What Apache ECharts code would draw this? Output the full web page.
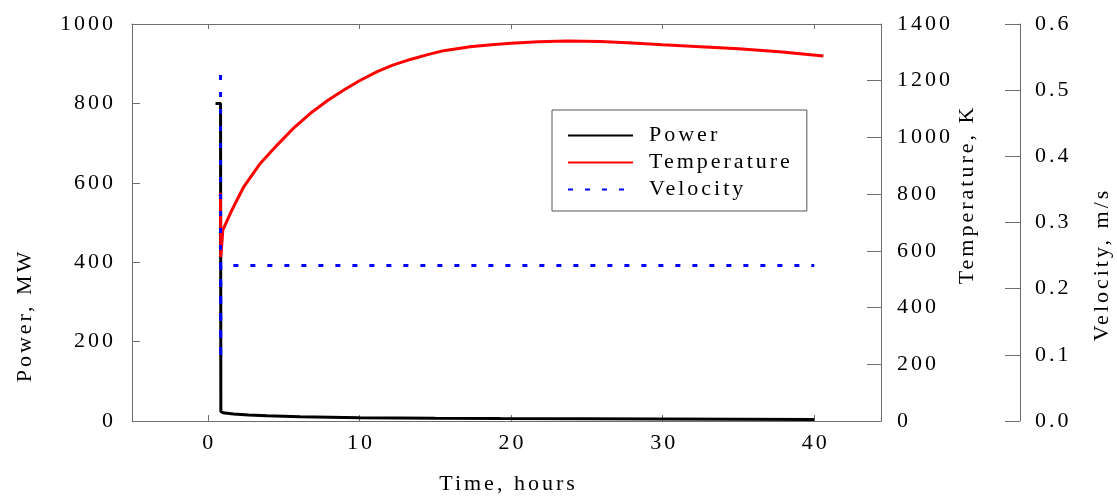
<!DOCTYPE html>
<html>
<head>
<meta charset="utf-8">
<script src="https://cdn.jsdelivr.net/npm/echarts@6/dist/echarts.min.js"></script>
<style>
html,body{margin:0;padding:0;background:#fff;}
#chart{width:1117px;height:496px;}
</style>
</head>
<body>
<div id="chart"></div>
<script>
// letter spacing like the reference's spaced-out serif text
(function(){
  var P = CanvasRenderingContext2D.prototype;
  var LSPX = 3, LS = LSPX + 'px';
  var ft = P.fillText, mt = P.measureText;
  P.measureText = function(){ this.letterSpacing = LS; return mt.apply(this, arguments); };
  P.fillText = function(t, x, y){
    this.letterSpacing = LS;
    var a = this.textAlign;
    if (a === 'right' || a === 'end' || a === 'center') {
      var w = mt.call(this, t).width - LSPX;
      if (a === 'center') x -= w / 2; else x -= w;
      this.textAlign = 'left';
      ft.call(this, t, x, y);
      this.textAlign = a;
      return;
    }
    return ft.apply(this, arguments);
  };
})();

// ---- data ----
var timeTicks = [0, 10, 20, 30, 40];
var powerData = [[0.51,800],[0.84,800],[0.86,24],[1.0,21],[1.7,17.6],[2.7,15],[3.9,13.4],[6.1,10.8],[10,8.3],[15,7.2],[19.3,6.5],[30,5],[40,4]];
var tempData = [[0.83,805],[0.86,578],[0.99,673],[1.6,745],[2.37,826],[3.47,909],[4.57,973],[5.6,1030],[6.77,1085],[7.9,1130],[8.97,1167],[10,1200],[11.17,1232],[12.2,1255],[13.36,1275],[14.5,1292],[15.56,1306],[17.3,1320],[18.7,1327],[20,1332],[21.8,1337],[23.7,1340],[25.9,1338],[28,1333],[30,1327],[32.5,1320],[35,1313],[37.7,1302],[40.6,1287]];
var velocityData = [[0.84,0.523],[0.85,0.093],[0.86,0.235],[40,0.235]];

var FONT = 'Liberation Serif';
var AX = '#6e6e6e';
var chart = echarts.init(document.getElementById('chart'), null, {renderer:'canvas'});
var txt = {color:'#000', fontFamily:FONT, fontSize:22};
var plain = function(v){ return String(v); };

chart.setOption({
  animation:false,
  backgroundColor:'#fff',
  grid:{left:132, right:236, top:24, bottom:75, containLabel:false},
  legend:{
    orient:'vertical', left:552, top:110,
    data:['Power','Temperature','Velocity'],
    itemWidth:65, itemHeight:14, itemGap:2,
    padding:[13,14,9,15],
    borderColor:'#555', borderWidth:1, backgroundColor:'#fff',
    itemStyle:{opacity:0},
    textStyle:{color:'#000', fontFamily:FONT, fontSize:22, padding:[0,0,0,11]}
  },
  xAxis:[{
    type:'value', min:-5, max:44.4, position:'bottom',
    axisLine:{show:true, onZero:false, lineStyle:{color:AX, width:1}},
    axisTick:{show:true, inside:true, length:6, customValues:timeTicks, lineStyle:{color:AX}},
    axisLabel:Object.assign({margin:10, customValues:timeTicks, formatter:plain}, txt),
    splitLine:{show:false}
  },{
    type:'value', min:-5, max:44.4, position:'top',
    axisLine:{show:true, onZero:false, lineStyle:{color:AX, width:1}},
    axisTick:{show:true, inside:true, length:5, customValues:timeTicks, lineStyle:{color:AX}},
    axisLabel:{show:false},
    splitLine:{show:false}
  }],
  yAxis:[{
    type:'value', min:0, max:1000, interval:200, position:'left',
    axisLine:{show:true, onZero:false, lineStyle:{color:AX, width:1}},
    axisTick:{show:true, inside:true, length:8, lineStyle:{color:AX}},
    axisLabel:Object.assign({margin:19, formatter:plain}, txt),
    splitLine:{show:false}
  },{
    type:'value', min:0, max:1400, interval:200, position:'right',
    axisLine:{show:true, onZero:false, lineStyle:{color:AX, width:1}},
    axisTick:{show:true, inside:true, length:14, lineStyle:{color:AX}},
    axisLabel:Object.assign({margin:16, formatter:plain}, txt),
    splitLine:{show:false}
  },{
    type:'value', min:0, max:0.6, interval:0.1, position:'right', offset:139,
    axisLine:{show:true, onZero:false, lineStyle:{color:AX, width:1}},
    axisTick:{show:true, inside:true, length:15, lineStyle:{color:AX}},
    axisLabel:Object.assign({margin:15, formatter:function(v){return v.toFixed(1);}}, txt),
    splitLine:{show:false}
  }],
  graphic:[
    {type:'text', x:507, y:484, style:{text:'Time, hours', font:'22px "Liberation Serif"', fill:'#000', textAlign:'center', textVerticalAlign:'middle'}},
    {type:'text', x:25, y:317, rotation:Math.PI/2, style:{text:'Power, MW', font:'22px "Liberation Serif"', fill:'#000', textAlign:'center', textVerticalAlign:'middle'}},
    {type:'text', x:967, y:196, rotation:Math.PI/2, style:{text:'Temperature, K', font:'22px "Liberation Serif"', fill:'#000', textAlign:'center', textVerticalAlign:'middle'}},
    {type:'text', x:1102, y:266, rotation:Math.PI/2, style:{text:'Velocity, m/s', font:'22px "Liberation Serif"', fill:'#000', textAlign:'center', textVerticalAlign:'middle'}}
  ],
  series:[{
    name:'Power', type:'line', xAxisIndex:0, yAxisIndex:0, data:powerData,
    showSymbol:false, symbol:'none', lineStyle:{color:'#000', width:3}, itemStyle:{color:'#000'}, z:3
  },{
    name:'Temperature', type:'line', xAxisIndex:0, yAxisIndex:1, data:tempData,
    showSymbol:false, symbol:'none', lineStyle:{color:'#ff0000', width:3}, itemStyle:{color:'#ff0000'}, z:4
  },{
    name:'Velocity', type:'line', xAxisIndex:0, yAxisIndex:2, data:velocityData,
    showSymbol:false, symbol:'none', lineStyle:{color:'#0000ff', width:3, type:[5,12]}, itemStyle:{color:'#0000ff'}, z:5
  }]
});
</script>
</body>
</html>
